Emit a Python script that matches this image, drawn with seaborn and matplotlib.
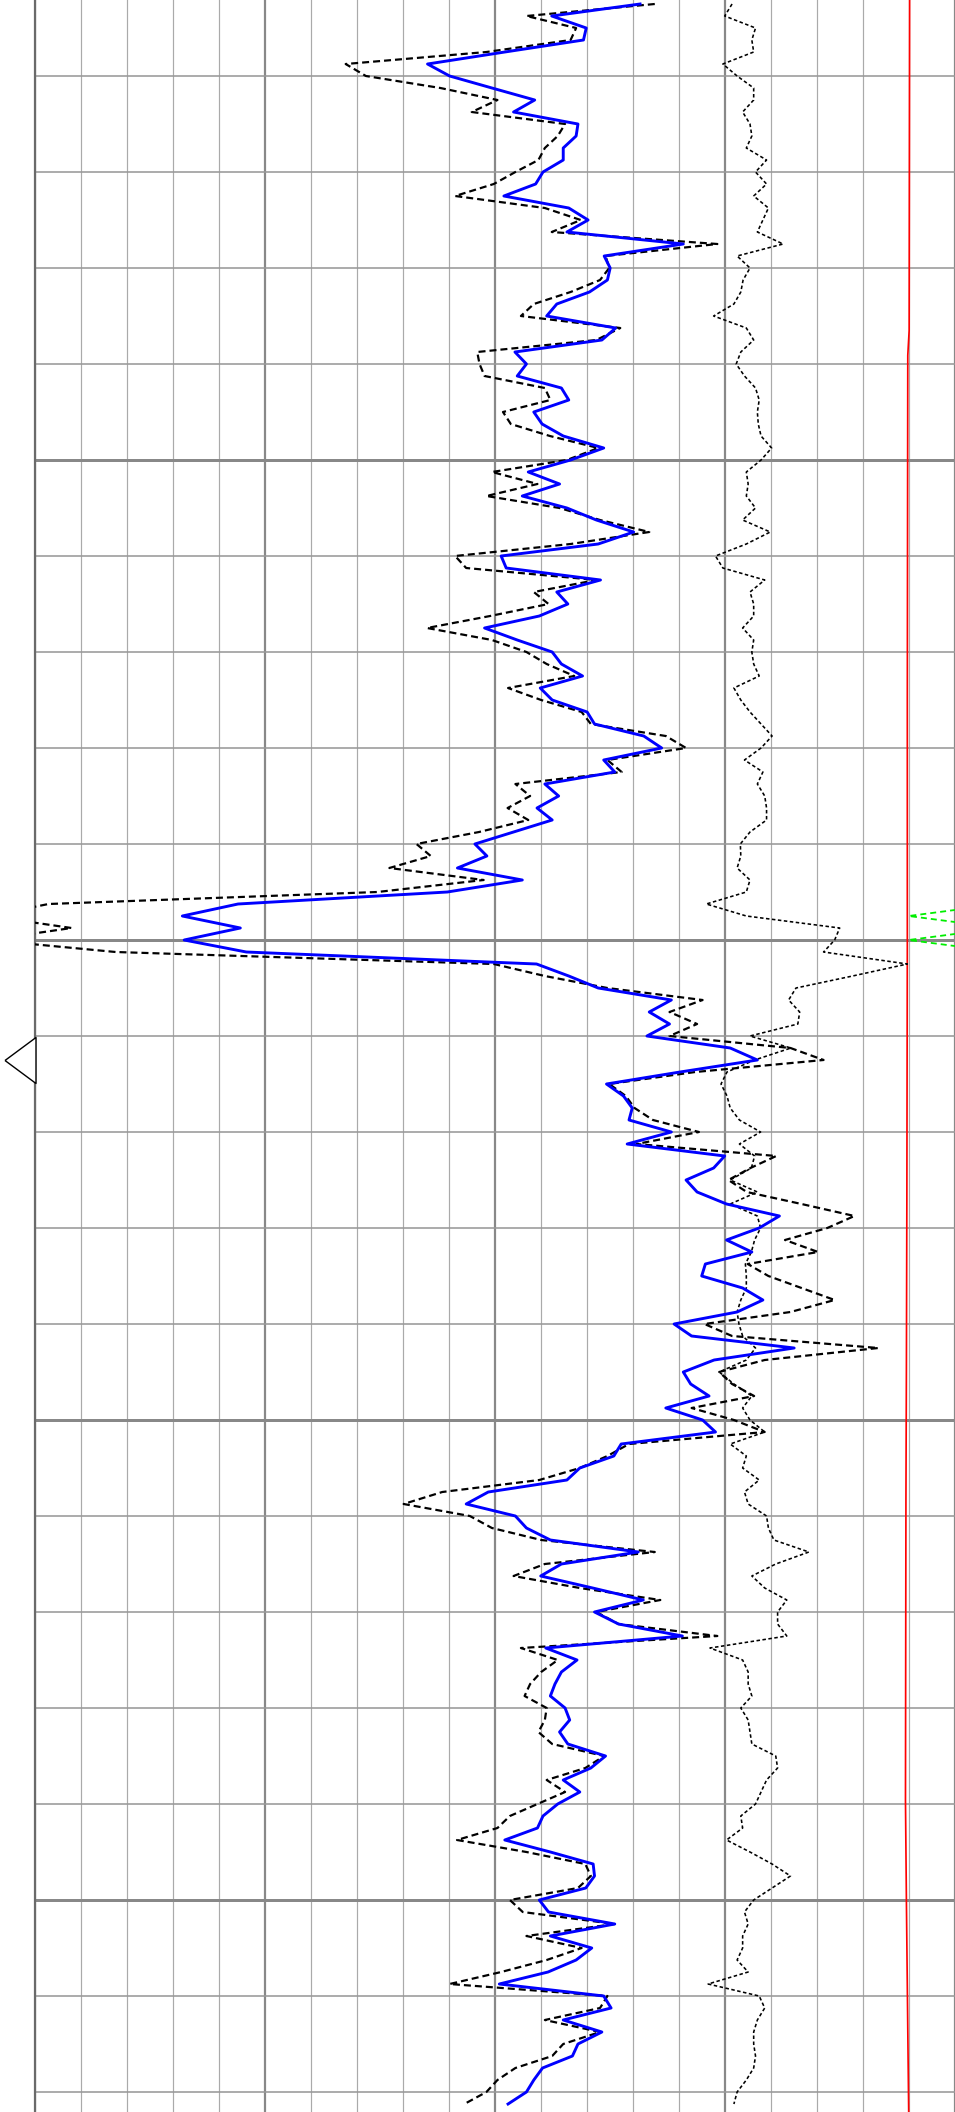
import numpy as np
import matplotlib
matplotlib.use("Agg")
import matplotlib.pyplot as plt
from matplotlib.transforms import blended_transform_factory
from matplotlib.ticker import MultipleLocator
import seaborn as sns

# ---------------- data ----------------
depth_top = 1000.25     # depth of first sample
depth_step = 0.125      # sample interval

blue_curve = [
    131.6, 112.4, 119.9, 119.3, 102.2, 85.4, 90.2, 99.4, 108.7, 104.1,
    118.1, 117.7, 114.9, 114.9, 110.5, 108.9, 102.0, 116.1, 120.3, 115.7,
    141.0, 123.8, 125.1, 124.5, 120.6, 113.5, 111.3, 126.3, 123.3, 104.4,
    106.9, 104.9, 114.5, 116.1, 108.5, 110.3, 114.9, 123.7, 116.5, 107.3,
    114.1, 106.0, 115.7, 122.1, 130.2, 122.5, 101.4, 102.5, 123.0, 113.5,
    115.9, 109.7, 97.8, 104.9, 112.5, 114.5, 119.1, 109.9, 112.5, 120.1,
    121.7, 132.4, 136.3, 123.7, 126.1, 110.9, 113.9, 109.2, 112.5, 104.1,
    95.7, 98.3, 91.9, 106.0, 89.7, 44.2, 32.1, 44.7, 32.5, 46.0,
    109.1, 116.1, 122.5, 138.4, 133.6, 138.0, 133.1, 151.2, 157.1, 140.3,
    124.3, 128.0, 129.9, 129.2, 138.4, 128.8, 150.0, 147.6, 141.6, 144.0,
    150.4, 161.9, 157.5, 150.4, 155.9, 145.8, 145.0, 153.9, 158.3, 152.7,
    139.0, 142.8, 165.1, 147.7, 141.0, 142.6, 146.6, 137.2, 145.2, 148.0,
    127.5, 125.9, 118.5, 115.7, 98.6, 93.8, 104.5, 106.9, 112.1, 131.2,
    114.5, 110.0, 121.3, 132.3, 121.7, 126.9, 140.8, 111.1, 117.9, 114.5,
    113.1, 112.1, 115.3, 116.3, 114.1, 115.9, 124.1, 120.9, 114.9, 118.5,
    113.7, 110.5, 109.3, 102.2, 112.1, 121.4, 121.7, 119.8, 109.7, 111.7,
    126.1, 112.1, 121.1, 117.7, 111.6, 101.0, 123.7, 125.3, 114.9, 123.3,
    118.1, 116.9, 110.4, 108.5, 106.9, 102.9,
]

dashed_curve = [
    134.8, 106.9, 117.7, 116.5, 98.2, 67.6, 72.0, 88.2, 100.6, 95.0,
    115.3, 113.7, 110.9, 109.5, 104.5, 99.8, 91.4, 110.9, 118.7, 112.4,
    148.4, 124.1, 124.9, 122.9, 116.5, 108.5, 105.7, 127.3, 122.1, 96.2,
    96.7, 97.8, 110.9, 112.1, 101.8, 103.5, 112.0, 122.5, 115.7, 99.4,
    109.3, 98.2, 114.1, 122.9, 133.6, 116.5, 91.4, 93.8, 122.1, 108.5,
    111.7, 99.0, 85.3, 99.4, 106.9, 111.3, 117.3, 102.9, 110.1, 118.9,
    120.9, 137.2, 141.6, 124.5, 127.6, 104.5, 107.7, 102.8, 107.3, 96.6,
    83.0, 86.1, 77.1, 97.6, 74.5, 3.0, -10.0, 8.0, -10.0, 17.6,
    99.8, 110.9, 124.5, 145.2, 138.0, 144.0, 138.0, 164.3, 171.5, 143.6,
    124.9, 128.5, 130.4, 134.4, 144.4, 130.8, 161.2, 155.6, 150.8, 154.8,
    166.7, 178.2, 172.3, 163.1, 170.3, 155.0, 159.5, 166.7, 173.9, 164.3,
    145.6, 151.6, 183.4, 158.7, 148.8, 151.6, 156.4, 142.8, 152.0, 158.7,
    129.2, 124.5, 118.5, 109.7, 88.6, 80.2, 94.6, 99.4, 110.1, 134.8,
    110.9, 104.1, 118.5, 136.0, 122.1, 126.9, 148.4, 105.7, 113.7, 110.1,
    107.7, 106.5, 111.3, 110.9, 109.5, 112.5, 123.8, 119.7, 111.3, 115.3,
    109.3, 103.3, 100.6, 91.8, 106.9, 119.7, 120.9, 118.1, 103.3, 106.1,
    126.1, 106.9, 118.9, 111.3, 101.4, 90.2, 124.5, 122.9, 110.9, 122.9,
    114.9, 112.5, 104.5, 100.6, 98.2, 93.4,
]

dotted_curve = [
    151.6, 150.0, 156.7, 155.9, 156.3, 149.6, 152.7, 156.3, 156.3, 153.9,
    155.5, 155.9, 154.7, 159.1, 156.7, 159.1, 156.3, 159.5, 158.3, 157.1,
    162.7, 152.7, 155.5, 154.0, 153.5, 152.0, 147.6, 154.7, 156.3, 153.5,
    152.5, 154.3, 156.7, 157.5, 157.1, 157.3, 157.9, 160.2, 157.9, 154.7,
    155.1, 154.7, 156.7, 153.9, 159.9, 154.7, 148.0, 149.6, 158.7, 155.5,
    156.3, 156.3, 153.9, 156.3, 155.9, 156.3, 157.5, 152.0, 153.5, 155.5,
    157.9, 160.3, 157.9, 154.3, 158.3, 157.1, 158.7, 159.1, 159.1, 155.5,
    153.4, 153.5, 152.7, 155.5, 154.7, 146.0, 154.7, 175.0, 173.9, 171.5,
    189.7, 177.8, 165.5, 163.9, 166.3, 165.9, 155.5, 164.4, 156.5, 150.5,
    149.2, 150.5, 151.2, 153.2, 157.8, 153.2, 156.5, 155.8, 151.2, 157.1,
    151.2, 157.1, 157.8, 156.5, 155.8, 154.5, 154.7, 154.7, 153.5, 152.7,
    153.1, 153.9, 156.7, 154.7, 148.8, 152.0, 155.9, 153.9, 155.5, 158.7,
    151.2, 154.7, 153.9, 157.5, 154.3, 155.1, 159.1, 159.5, 160.7, 168.3,
    161.1, 155.9, 158.7, 163.5, 161.5, 161.5, 163.5, 146.8, 153.9, 155.1,
    155.1, 155.9, 153.5, 155.1, 155.5, 155.9, 161.1, 161.5, 159.1, 157.9,
    156.7, 153.5, 153.9, 150.4, 155.5, 160.3, 164.3, 160.3, 156.3, 154.3,
    155.1, 153.9, 153.9, 152.7, 155.1, 146.4, 157.5, 158.7, 157.1, 156.3,
    156.3, 156.7, 156.3, 154.7, 152.7, 152.0,
]

red_depth = [1000.21, 1003.65, 1003.91, 1007.50, 1010.10, 1012.71,
             1014.48, 1015.83, 1018.96, 1020.00, 1021.35, 1022.21]
red_curve = [190.2, 190.1, 189.8, 189.7, 189.7, 189.6,
             189.5, 189.4, 189.3, 189.5, 189.8, 190.0]

green_depth = [1009.625, 1009.75, 1009.875, 1010.0, 1010.125]
green_curve = [210.0, 190.0, 210.0, 190.0, 210.0]

marker_depth = 1011.25

x_min, x_max = 0, 200
depth_min, depth_max = 1000.2083, 1022.2083

depth = depth_top + depth_step * np.arange(len(blue_curve))

# ---------------- figure ----------------
plt.rcParams['lines.scale_dashes'] = False
W, H, DPI = 955, 2112, 100
fig = plt.figure(figsize=(W / DPI, H / DPI), dpi=DPI)
fig.patch.set_facecolor('white')
ax = fig.add_axes([34.7 / W, 0.0, 920 / W, 1.0])
ax.set_facecolor('white')

px = 72.0 / DPI  # one pixel in points

# grid
ax.xaxis.set_major_locator(MultipleLocator(50))
ax.xaxis.set_minor_locator(MultipleLocator(10))
ax.yaxis.set_major_locator(MultipleLocator(5))
ax.yaxis.set_minor_locator(MultipleLocator(1))
ax.grid(which='minor', axis='x', color='#aaaaaa', lw=1.2 * px)
ax.grid(which='major', axis='x', color='#888888', lw=2.2 * px)
ax.grid(which='minor', axis='y', color='#999999', lw=1.6 * px)
ax.grid(which='major', axis='y', color='#888888', lw=3.0 * px)
ax.set_axisbelow(True)
ax.tick_params(which='both', length=0, labelleft=False, labelbottom=False)

# curves
sns.lineplot(x=red_curve, y=red_depth, orient='y', sort=False, estimator=None,
             ax=ax, color='#ff0000', lw=1.7 * px, zorder=3)
sns.lineplot(x=green_curve, y=green_depth, orient='y', sort=False, estimator=None,
             ax=ax, color='#00ee00', lw=1.8 * px, ls=(0, (6 * px, 4 * px)), zorder=3)
sns.lineplot(x=dotted_curve, y=depth, orient='y', sort=False, estimator=None,
             ax=ax, color='black', lw=1.6 * px, ls=(0, (3.5 * px, 2.5 * px)), zorder=4)
sns.lineplot(x=dashed_curve, y=depth, orient='y', sort=False, estimator=None,
             ax=ax, color='black', lw=2.2 * px, ls=(0, (7 * px, 4 * px)), zorder=5)
sns.lineplot(x=blue_curve, y=depth, orient='y', sort=False, estimator=None,
             ax=ax, color='#0000ff', lw=2.9 * px, zorder=6)

ax.set_xlim(x_min, x_max)
ax.set_ylim(depth_max, depth_min)
ax.set_xlabel('')
ax.set_ylabel('')

for s in ['top', 'bottom', 'right']:
    ax.spines[s].set_visible(False)
ax.spines['left'].set_color('#6a6a6a')
ax.spines['left'].set_linewidth(2.2 * px)

# depth marker (left-pointing open triangle outside the track)
tri = [(-15.5, 0.0), (15.5, -23.0), (15.5, 23.0), (-15.5, 0.0)]
trans = blended_transform_factory(ax.transAxes, ax.transData)
ax.plot([-0.0165], [marker_depth], transform=trans, marker=tri, ms=46 * px,
        mfc='white', mec='black', mew=1.4 * px, ls='none', clip_on=False, zorder=7)

fig.savefig('out.png', dpi=DPI, facecolor='white')
